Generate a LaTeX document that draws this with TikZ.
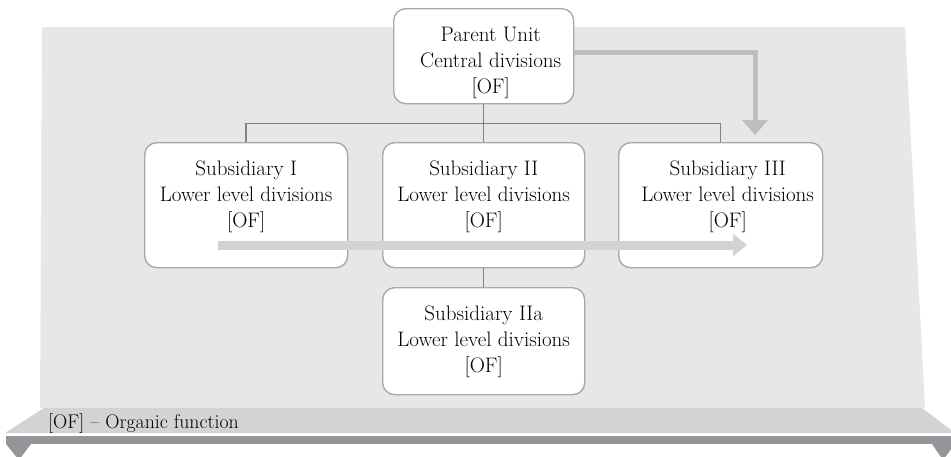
\documentclass[tikz,border=0pt]{standalone}
\usepackage{fontspec}
\usetikzlibrary{arrows.meta,calc}
\definecolor{panel}{HTML}{E6E7E8}
\definecolor{shelf}{HTML}{D1D3D4}
\definecolor{shelfedge}{HTML}{939598}
\definecolor{boxline}{HTML}{A7A9AC}
\definecolor{treeline}{HTML}{808285}
\definecolor{flowgray}{HTML}{BCBEC0}
\begin{document}
\begin{tikzpicture}[x=1pt,y=-1pt,
  unitbox/.style={draw=boxline,line width=1.4pt,fill=white,rounded corners=12pt,
    minimum width=#1,minimum height=0pt,inner sep=0pt,anchor=north west},
  unittext/.style={anchor=north,align=center,inner sep=0pt,
    font=\fontsize{21}{26}\selectfont},
  tree/.style={draw=treeline,line width=1.5pt},
  elbow/.style={draw=flowgray,line width=5pt,
    -{Triangle[width=25pt,length=15pt]}},
  across/.style={draw=shelf,line width=9pt,
    -{Triangle[width=22pt,length=14pt]}}]
\clip (0,0) rectangle (951,456);
\useasboundingbox (0,0) rectangle (951,456);

% back panel and shelf
\fill[panel] (42,27) -- (905,27) -- (925,408) -- (40,408) -- cycle;
\fill[shelf] (44,408) -- (922,408) -- (951,430) -- (951,433) -- (5,433) -- cycle;
\fill[shelfedge] (6,436) rectangle (951,444);
\fill[shelfedge] (6,444) -- (31,444) -- (19,460) -- cycle;
\fill[shelfedge] (932,444) -- (955,444) -- (943,460) -- cycle;
\node[anchor=base west,inner sep=0pt,font=\fontsize{19.8}{24}\selectfont]
  (legend) at (48,428) {[OF] -- Organic function};

% unit boxes
\path (393,8) node[unitbox=180pt,minimum height=95pt] (P) {};
\path (144,142) node[unitbox=203pt,minimum height=125pt] (S1) {};
\path (382,142) node[unitbox=202pt,minimum height=125pt] (S2) {};
\path (618,142) node[unitbox=204pt,minimum height=125pt] (S3) {};
\path (382,287) node[unitbox=202pt,minimum height=107pt] (S2a) {};

% hierarchy lines
\draw[tree] (P.south) -- ++(0,19) coordinate (bar);
\draw[tree] (S1.north) |- (bar) -| (S3.north);
\draw[tree] (bar) -- (S2.north);
\draw[tree] (S2.south) -- (S2a.north);

% box texts
\node[unittext] (Pt) at ($(P.north)+(7,19)$) {Parent Unit\\Central divisions\\{[OF]}};
\node[unittext] (S1t) at ($(S1.north)+(0,19)$) {Subsidiary I\\Lower level divisions\\{[OF]}};
\node[unittext] (S2t) at ($(S2.north)+(0,19)$) {Subsidiary II\\Lower level divisions\\{[OF]}};
\node[unittext] (S3t) at ($(S3.north)+(7,19)$) {Subsidiary III\\Lower level divisions\\{[OF]}};
\node[unittext] (S2at) at ($(S2a.north)+(0,19)$) {Subsidiary IIa\\Lower level divisions\\{[OF]}};

% flow arrows
\coordinate (elbowtip) at (755,135);
\draw[elbow] ($(P.east)+(0,-4)$) -| (elbowtip);
\coordinate (flowstart) at (218,245);
\coordinate (flowend) at (747,245);
\draw[across] (flowstart) -- (flowend);
\end{tikzpicture}
\end{document}
